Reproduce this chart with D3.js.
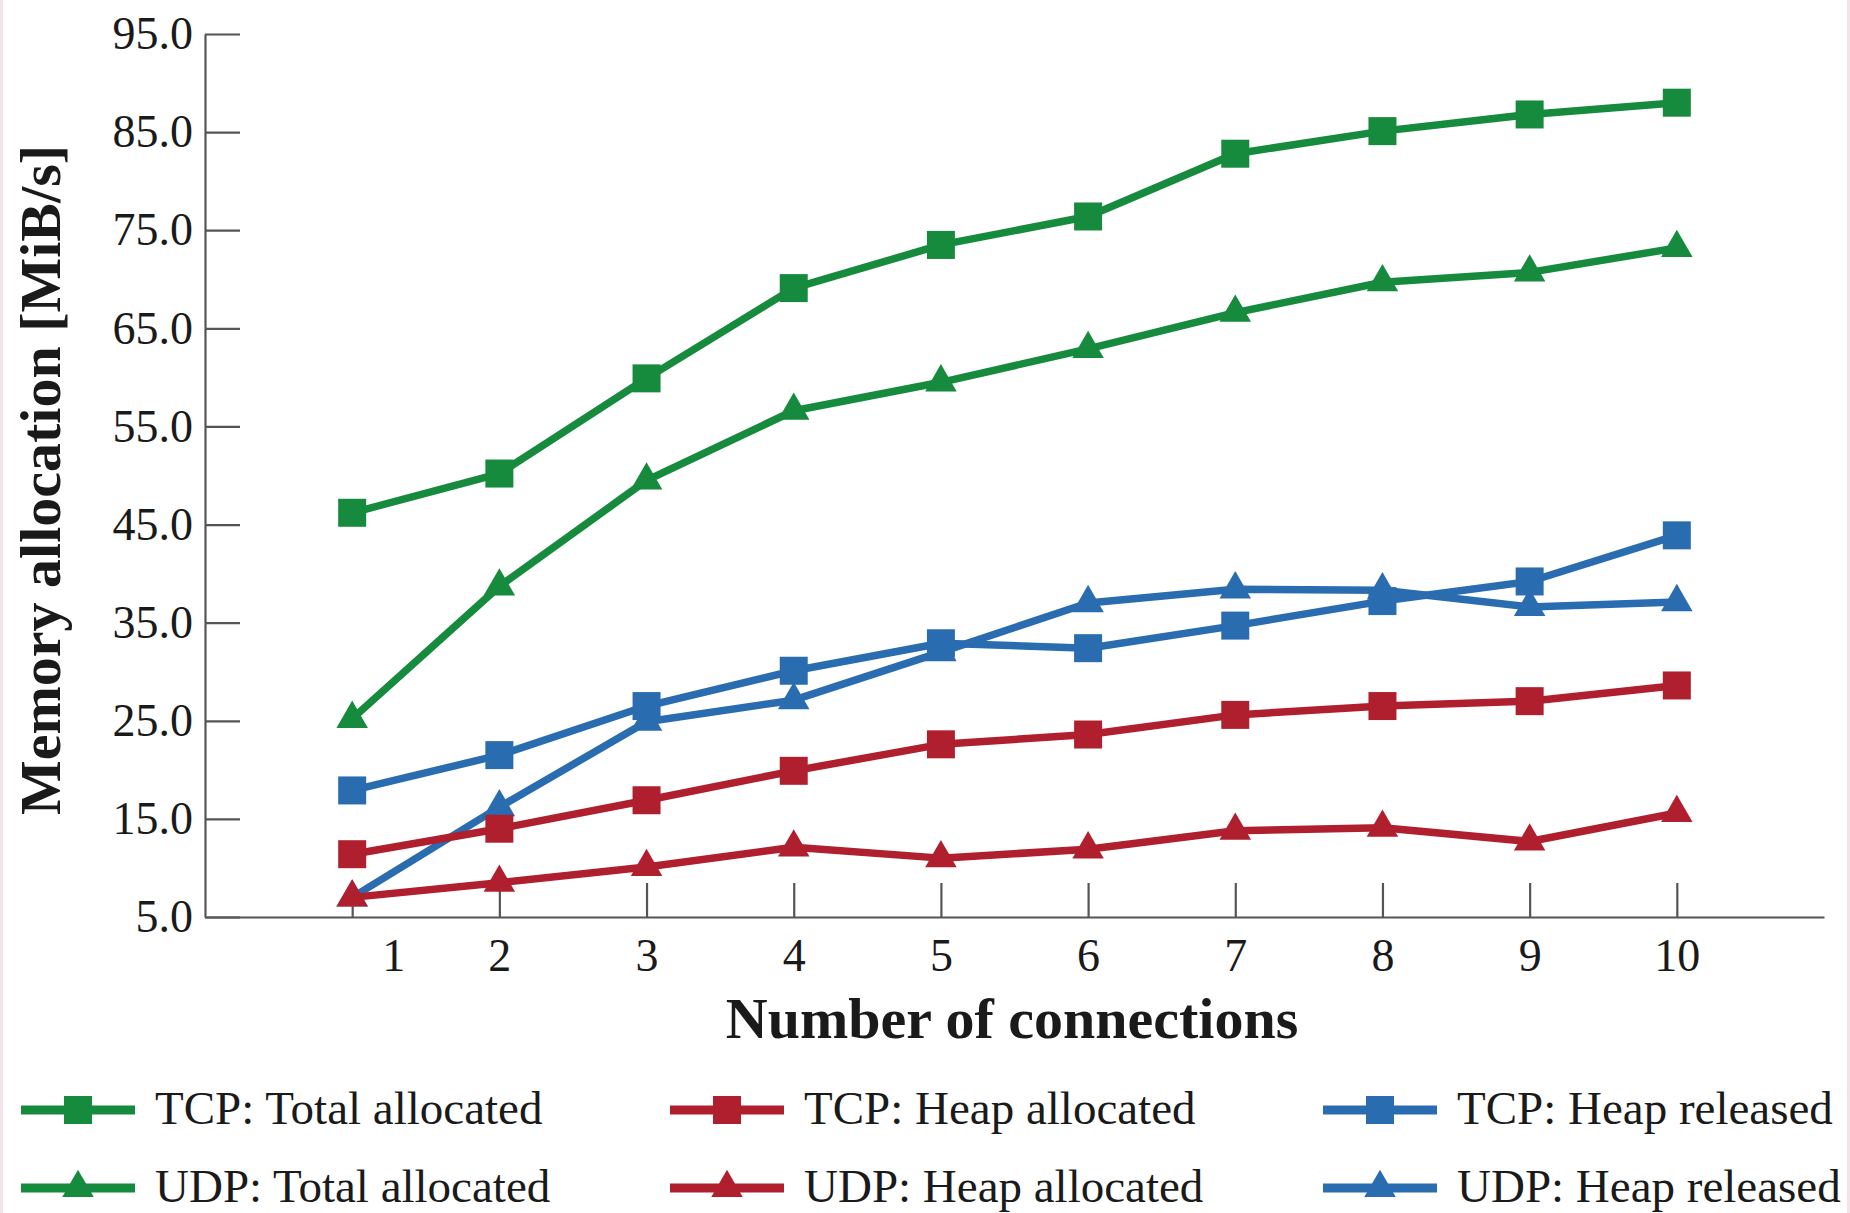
<!DOCTYPE html>
<html>
<head>
<meta charset="utf-8">
<script src="https://cdn.jsdelivr.net/npm/d3@7"></script>
<style>
    body { margin: 0; background: #fff; }
    svg text { font-family: "Liberation Serif", "Times New Roman", serif; fill: #1a1a1a; }
</style>
</head>
<body>
<div id="chart"></div>
<script>
// values
const connections = [1, 2, 3, 4, 5, 6, 7, 8, 9, 10];
const tcpTotal = [46.2, 50.2, 59.9, 69.1, 73.5, 76.4, 82.8, 85.1, 86.8, 88.0];
const udpTotal = [25.2, 38.7, 49.5, 56.6, 59.5, 62.9, 66.6, 69.7, 70.7, 73.2];
const tcpHeapAlloc = [11.4, 14.0, 16.9, 19.9, 22.6, 23.6, 25.6, 26.5, 27.0, 28.6];
const udpHeapAlloc = [7.0, 8.5, 10.1, 12.1, 11.0, 11.9, 13.8, 14.1, 12.7, 15.6];
const tcpHeapRel = [17.9, 21.5, 26.5, 30.1, 32.9, 32.4, 34.7, 37.2, 39.2, 43.9];
const udpHeapRel = [7.0, 16.2, 24.9, 27.1, 32.0, 37.0, 38.4, 38.3, 36.6, 37.1];
const yTicks = [5, 15, 25, 35, 45, 55, 65, 75, 85, 95];

const green = "#168a3d", red = "#b01f2e", blue = "#2a6cb0";

// drawing order: blue first, red, then green on top
const series = [
    {name: "TCP: Heap released", values: tcpHeapRel, color: blue, shape: "square"},
    {name: "UDP: Heap released", values: udpHeapRel, color: blue, shape: "triangle"},
    {name: "TCP: Heap allocated", values: tcpHeapAlloc, color: red, shape: "square"},
    {name: "UDP: Heap allocated", values: udpHeapAlloc, color: red, shape: "triangle"},
    {name: "TCP: Total allocated", values: tcpTotal, color: green, shape: "square"},
    {name: "UDP: Total allocated", values: udpTotal, color: green, shape: "triangle"}
];
// legend columns: total, heap allocated, heap released
const legendOrder = [
    ["TCP: Total allocated", "UDP: Total allocated"],
    ["TCP: Heap allocated", "UDP: Heap allocated"],
    ["TCP: Heap released", "UDP: Heap released"]
];

const width = 1850, height = 1213;

const svg = d3.select("#chart").append("svg")
    .attr("width", width)
    .attr("height", height);

svg.append("rect").attr("width", width).attr("height", height).attr("fill", "#fff");
// faint pink edges of the scan
svg.append("rect").attr("x", 0).attr("width", 3).attr("height", height).attr("fill", "#f4e3e8");
svg.append("rect").attr("x", width - 3).attr("width", 3).attr("height", height).attr("fill", "#f4e3e8");

let x = d3.scaleLinear().domain([0, 11]).range([205, 1824]);
let y = d3.scaleLinear().domain([5, 95]).range([917, 34]);

// y axis, ticks pointing inwards
let yAxis = svg.append("g")
    .attr("transform", "translate(" + x(0) + ",0)")
    .call(d3.axisLeft(y).tickValues(yTicks).tickFormat(d3.format(".1f"))
        .tickSizeInner(-35).tickSizeOuter(0).tickPadding(12));

// x axis
let xAxis = svg.append("g")
    .attr("transform", "translate(0," + y(5) + ")")
    .call(d3.axisBottom(x).tickValues(connections).tickFormat(d3.format("d"))
        .tickSizeInner(-34).tickSizeOuter(0).tickPadding(21));

[yAxis, xAxis].forEach(function (g) {
    g.select(".domain").attr("stroke", "#555").attr("stroke-width", 2.2);
    g.selectAll(".tick line").attr("stroke", "#555").attr("stroke-width", 2.2);
    g.selectAll(".tick text")
        .attr("font-family", "Liberation Serif, serif")
        .attr("font-size", 46)
        .attr("fill", "#1a1a1a");
});
// the "1" label sits right of its tick in the original
xAxis.selectAll(".tick text").filter(d => d === 1).attr("dx", 41);

// axis titles
svg.append("text")
    .attr("x", 1012).attr("y", 1038)
    .attr("text-anchor", "middle")
    .attr("font-size", 58).attr("font-weight", "bold")
    .text("Number of connections");

svg.append("text")
    .attr("transform", "translate(60,480) rotate(-90)")
    .attr("text-anchor", "middle")
    .attr("font-size", 58).attr("font-weight", "bold")
    .text("Memory allocation [MiB/s]");

let symbolFor = function (shape) {
    return shape === "square"
        ? d3.symbol().type(d3.symbolSquare).size(28 * 28)
        : d3.symbol().type(d3.symbolTriangle).size(430);
};

let line = d3.line()
    .x((d, i) => x(connections[i]))
    .y(d => y(d));

series.forEach(function (s) {
    let g = svg.append("g");
    g.append("path")
        .datum(s.values)
        .attr("fill", "none")
        .attr("stroke", s.color)
        .attr("stroke-width", 7.5)
        .attr("stroke-linejoin", "round")
        .attr("d", line);
    g.selectAll("path.marker")
        .data(s.values)
        .enter().append("path")
        .attr("class", "marker")
        .attr("transform", (d, i) => "translate(" + x(connections[i]) + "," + y(d) + ")")
        .attr("fill", s.color)
        .attr("d", symbolFor(s.shape)());
});

// legend
const legendX = [78, 727, 1380];
const legendY = [1110, 1188];
legendOrder.forEach(function (col, ci) {
    col.forEach(function (name, ri) {
        let s = series.find(d => d.name === name);
        let g = svg.append("g")
            .attr("transform", "translate(" + legendX[ci] + "," + legendY[ri] + ")");
        g.append("line")
            .attr("x1", -57).attr("x2", 57)
            .attr("stroke", s.color).attr("stroke-width", 9);
        g.append("path")
            .attr("fill", s.color)
            .attr("d", symbolFor(s.shape)());
        g.append("text")
            .attr("x", 77).attr("y", 14)
            .attr("font-size", 47)
            .text(name);
    });
});
</script>
</body>
</html>
